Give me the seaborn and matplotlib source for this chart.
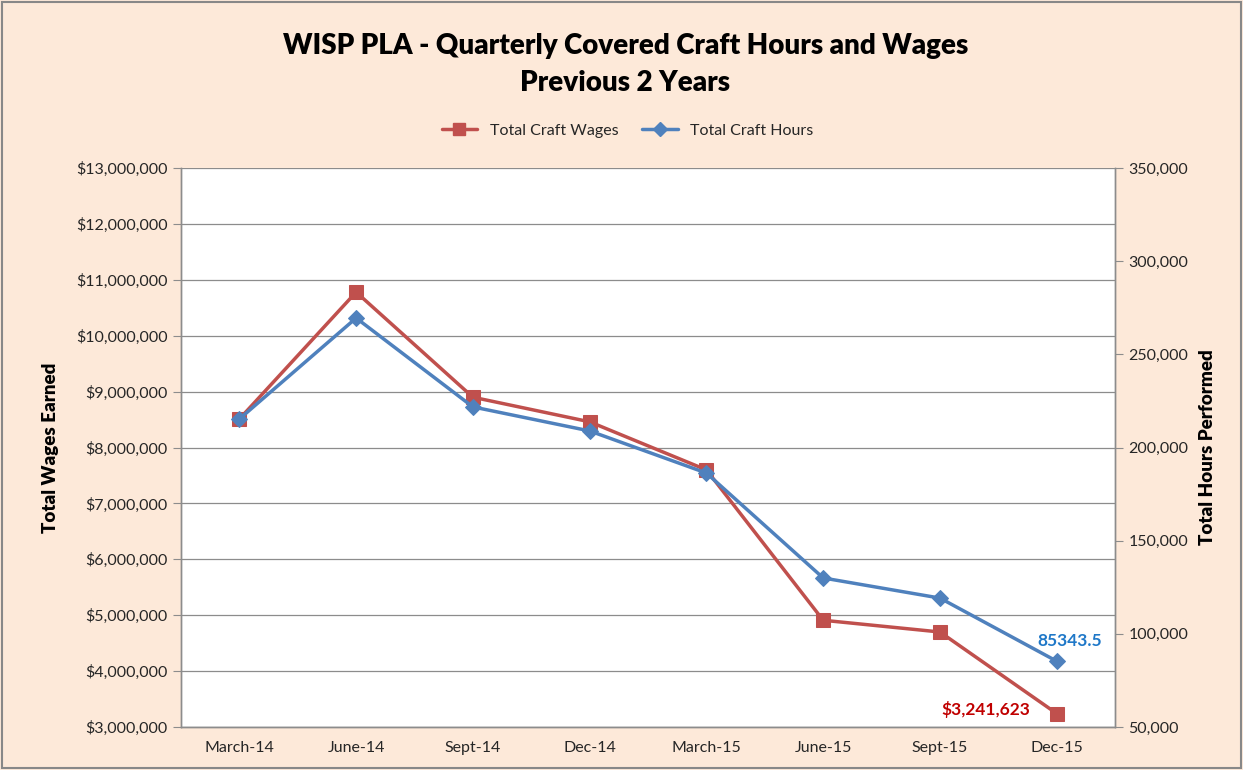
import pandas as pd
import matplotlib.pyplot as plt
import matplotlib.ticker as mticker
from matplotlib.lines import Line2D
import seaborn as sns

# Data
quarters = ['March-14', 'June-14', 'Sept-14', 'Dec-14', 'March-15', 'June-15', 'Sept-15', 'Dec-15']
wages = [8510000, 10780000, 8900000, 8460000, 7600000, 4910000, 4700000, 3241623]
hours = [215300, 269500, 221800, 208900, 186300, 130000, 119200, 85343.5]

df = pd.DataFrame({'quarter': quarters, 'wages': wages, 'hours': hours})
df['pos'] = range(len(df))

sns.set_style('white')
plt.rcParams['font.family'] = ['Lato', 'DejaVu Sans']

bg = '#FDE9D9'
red = '#C0504D'
blue = '#4F81BD'
grid = '#8C8C8C'

fig = plt.figure(figsize=(12.43, 7.7), dpi=100, facecolor=bg)
ax = fig.add_axes([0.1456, 0.0558, 0.7515, 0.726])
ax.set_facecolor('white')
ax2 = ax.twinx()

sns.lineplot(data=df, x='pos', y='wages', ax=ax, color=red, marker='s',
             markersize=10, markeredgecolor=red, linewidth=2.5, zorder=3)
sns.lineplot(data=df, x='pos', y='hours', ax=ax2, color=blue, marker='D',
             markersize=8, markeredgecolor=blue, linewidth=2.5, zorder=4)

# left axis
ax.set_ylim(3000000, 13000000)
ax.yaxis.set_major_locator(mticker.MultipleLocator(1000000))
ax.yaxis.set_major_formatter(mticker.FuncFormatter(lambda v, p: '${:,.0f}'.format(v)))
ax.grid(axis='y', color=grid, linewidth=0.9)
ax.set_axisbelow(True)

# right axis
ax2.set_ylim(50000, 350000)
ax2.yaxis.set_major_locator(mticker.MultipleLocator(50000))
ax2.yaxis.set_major_formatter(mticker.FuncFormatter(lambda v, p: '{:,.0f}'.format(v)))

# x axis with Excel-style ticks between categories
ax.set_xlim(-0.5, 7.5)
ax.set_xticks(df['pos'])
ax.set_xticklabels(quarters)
ax.set_xticks([i + 0.5 for i in range(-1, 8)], minor=True)
ax.tick_params(axis='x', which='major', length=0, pad=10, labelsize=11.5, labelcolor='#262626')
ax.tick_params(axis='x', which='minor', length=6, color=grid, direction='out')
ax.tick_params(axis='y', length=6, color=grid, direction='out', labelsize=11.5,
               labelcolor='#262626', left=True)
ax2.tick_params(axis='y', length=6, color=grid, direction='out', labelsize=11.5,
                labelcolor='#262626', right=True)

for a in (ax, ax2):
    for side, sp in a.spines.items():
        sp.set_color(grid)
        sp.set_linewidth(1.0)
    a.spines['top'].set_visible(False)

ax.set_xlabel('')
ax.set_ylabel('Total Wages Earned', fontsize=13.5, fontweight='heavy', color='black', labelpad=12)
ax2.set_ylabel('Total Hours Performed', fontsize=13.5, fontweight='heavy', color='black', labelpad=8)

# annotations
ax2.annotate('85343.5', (7, hours[-1]), xytext=(9, 9), textcoords='offset points',
             ha='center', va='bottom', color='#1F78C8', fontsize=12.5, fontweight='bold')
ax.annotate('$3,241,623', (7, wages[-1]), xytext=(-19, 3), textcoords='offset points',
            ha='right', va='center', color='#C00000', fontsize=12.5, fontweight='bold')

# title and legend
fig.text(0.503, 0.94, 'WISP PLA - Quarterly Covered Craft Hours and Wages',
         ha='center', va='center', fontsize=20, fontweight='heavy', color='black')
fig.text(0.503, 0.892, 'Previous 2 Years',
         ha='center', va='center', fontsize=20, fontweight='heavy', color='black')
handles = [Line2D([], [], color=red, marker='s', markersize=9, linewidth=2.5),
           Line2D([], [], color=blue, marker='D', markersize=7, linewidth=2.5)]
fig.legend(handles, ['Total Craft Wages', 'Total Craft Hours'], loc='center',
           bbox_to_anchor=(0.505, 0.83), ncol=2, frameon=False, fontsize=11.5,
           handlelength=2.2, columnspacing=1.5, labelcolor='#262626')

# outer border
fig.patches.append(plt.Rectangle((0.002, 0.002), 0.996, 0.996, transform=fig.transFigure,
                                 fill=False, edgecolor='#888888', linewidth=1.5))

fig.savefig('out.png', dpi=100, facecolor=bg)
